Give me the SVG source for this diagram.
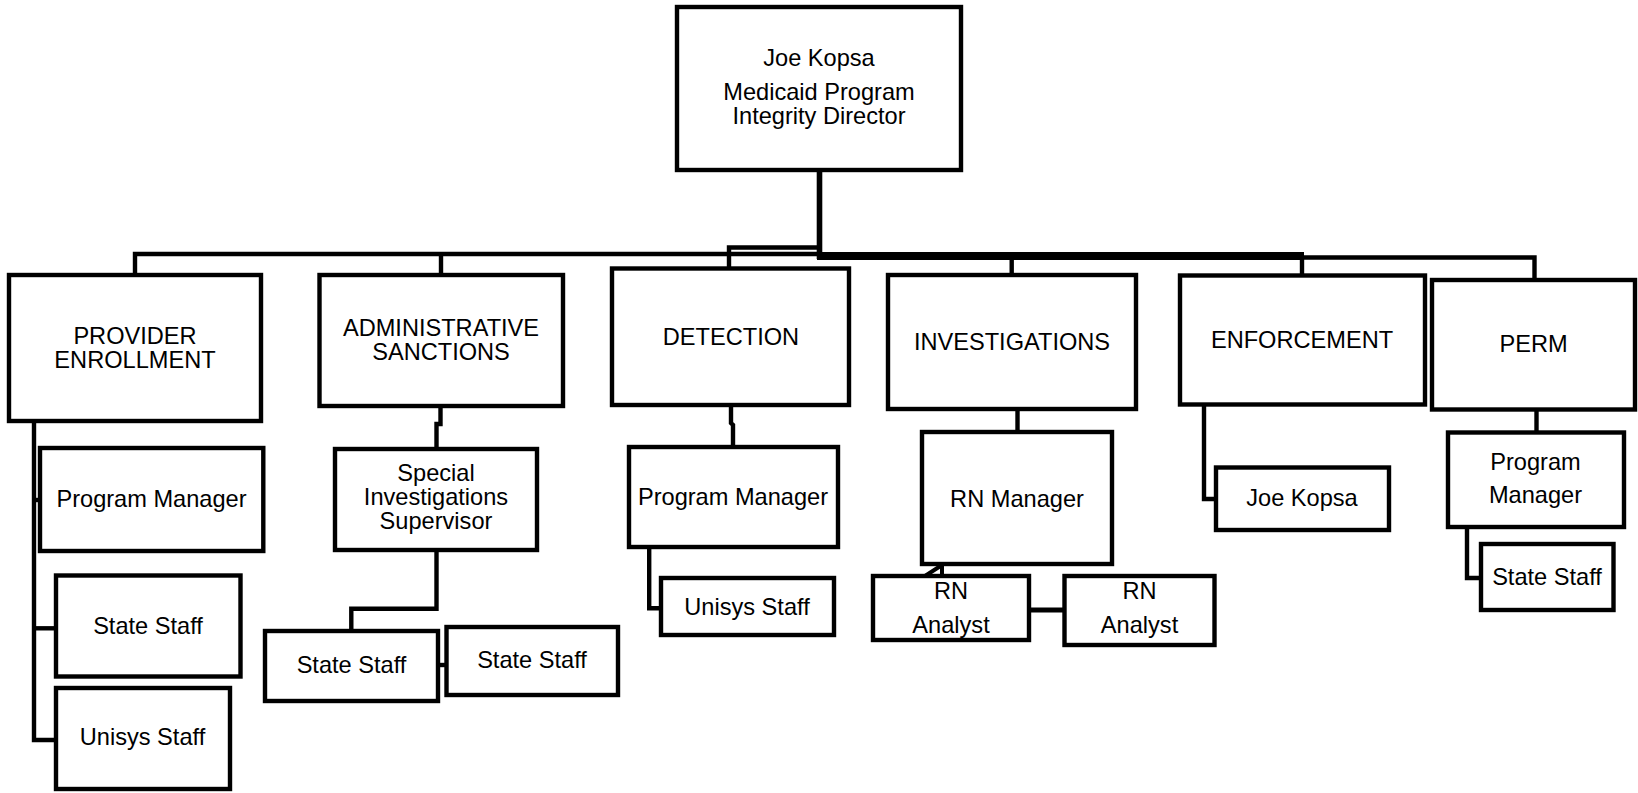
<svg xmlns="http://www.w3.org/2000/svg" width="1638" height="793" viewBox="0 0 1638 793">
<style>
.box{fill:#fff;stroke:#000;stroke-width:4.4}
.ln{fill:none;stroke:#000;stroke-width:4.4}
text{font-family:"Liberation Sans",Arial,sans-serif;font-size:23.6px;fill:#000;text-anchor:middle}
</style>
<rect width="1638" height="793" fill="#fff"/>
<g id="connectors">
<polyline class="ln" points="135,275 135,254 819,254"/>
<line class="ln" x1="441" y1="254" x2="441" y2="275"/>
<polyline class="ln" points="729,268.5 729,247.5 819,247.5"/>
<line class="ln" x1="819.5" y1="170" x2="819.5" y2="259" style="stroke-width:5.6"/>
<line class="ln" x1="817" y1="256" x2="1304" y2="256" style="stroke-width:8"/>
<polyline class="ln" points="1302,257.5 1534.5,257.5 1534.5,280"/>
<line class="ln" x1="1011.7" y1="258" x2="1011.7" y2="275"/>
<line class="ln" x1="1302" y1="258" x2="1302" y2="275.5"/>
<polyline class="ln" points="34,421 34,740 56,740"/>
<line class="ln" x1="34" y1="628.3" x2="56" y2="628.3"/>
<line class="ln" x1="34" y1="500" x2="40" y2="500"/>
<polyline class="ln" points="440.5,406 440.5,424 436.5,424 436.5,449"/>
<polyline class="ln" points="436.5,550 436.5,608.8 351.3,608.8 351.3,631"/>
<line class="ln" x1="438" y1="665" x2="446.5" y2="665"/>
<polyline class="ln" points="731,405 731,423 733,425 733,447"/>
<polyline class="ln" points="649.2,547 649.2,608.3 661,608.3"/>
<line class="ln" x1="1017.5" y1="409" x2="1017.5" y2="432"/>
<polyline class="ln" points="925,576 942,565 942,576" style="stroke-width:4"/>
<line class="ln" x1="1029" y1="610" x2="1064.5" y2="610" style="stroke-width:5"/>
<polyline class="ln" points="1204,404.7 1204,499 1216,499"/>
<line class="ln" x1="1536.5" y1="409.5" x2="1536.5" y2="432.5"/>
<polyline class="ln" points="1467,527 1467,578 1481,578"/>
</g>
<g id="director"><rect class="box" x="677" y="7" width="284" height="163"/><text x="819" y="66">Joe Kopsa</text><text x="819" y="100">Medicaid Program</text><text x="819" y="124">Integrity Director</text></g>
<g id="provider-enrollment"><rect class="box" x="9" y="275" width="252" height="146"/><text x="135" y="343.5">PROVIDER</text><text x="135" y="367.5">ENROLLMENT</text></g>
<g id="administrative-sanctions"><rect class="box" x="319.5" y="275" width="243.5" height="131"/><text x="441" y="336">ADMINISTRATIVE</text><text x="441" y="360">SANCTIONS</text></g>
<g id="detection"><rect class="box" x="612" y="268.5" width="237" height="136.5"/><text x="731" y="345">DETECTION</text></g>
<g id="investigations"><rect class="box" x="888" y="275" width="248" height="134"/><text x="1012" y="350">INVESTIGATIONS</text></g>
<g id="enforcement"><rect class="box" x="1180" y="275.5" width="245" height="129"/><text x="1302" y="348">ENFORCEMENT</text></g>
<g id="perm"><rect class="box" x="1432" y="280" width="203" height="129.5"/><text x="1533.5" y="352">PERM</text></g>
<g id="pe-program-manager"><rect class="box" x="40" y="448" width="223.3" height="103"/><text x="151.5" y="506.7">Program Manager</text></g>
<g id="pe-state-staff"><rect class="box" x="56" y="575.5" width="184.5" height="101"/><text x="148" y="634.3">State Staff</text></g>
<g id="pe-unisys-staff"><rect class="box" x="56" y="688" width="174" height="101"/><text x="142.5" y="745">Unisys Staff</text></g>
<g id="as-supervisor"><rect class="box" x="335" y="449" width="202" height="101"/><text x="436" y="480.7">Special</text><text x="436" y="505">Investigations</text><text x="436" y="529.3">Supervisor</text></g>
<g id="as-state-staff-1"><rect class="box" x="265" y="631" width="173" height="70"/><text x="351.5" y="673.3">State Staff</text></g>
<g id="as-state-staff-2"><rect class="box" x="446.5" y="627" width="171.5" height="68"/><text x="532" y="667.7">State Staff</text></g>
<g id="det-program-manager"><rect class="box" x="629" y="447" width="209" height="100"/><text x="733" y="505">Program Manager</text></g>
<g id="det-unisys-staff"><rect class="box" x="661" y="578" width="173" height="57"/><text x="747" y="615">Unisys Staff</text></g>
<g id="rn-manager"><rect class="box" x="922" y="432" width="190" height="132"/><text x="1017" y="506.7">RN Manager</text></g>
<g id="rn-analyst-1"><rect class="box" x="873" y="576" width="156" height="64"/><text x="951" y="599">RN</text><text x="951" y="632.7">Analyst</text></g>
<g id="rn-analyst-2"><rect class="box" x="1064.5" y="576" width="150" height="69"/><text x="1139.5" y="599">RN</text><text x="1139.5" y="633.3">Analyst</text></g>
<g id="enf-joe-kopsa"><rect class="box" x="1216" y="467.5" width="173" height="62.5"/><text x="1302" y="506">Joe Kopsa</text></g>
<g id="perm-program-manager"><rect class="box" x="1448" y="432.5" width="176" height="94.5"/><text x="1535.5" y="470">Program</text><text x="1535.5" y="502.7">Manager</text></g>
<g id="perm-state-staff"><rect class="box" x="1481" y="544" width="132.5" height="66"/><text x="1547" y="585">State Staff</text></g>
</svg>
